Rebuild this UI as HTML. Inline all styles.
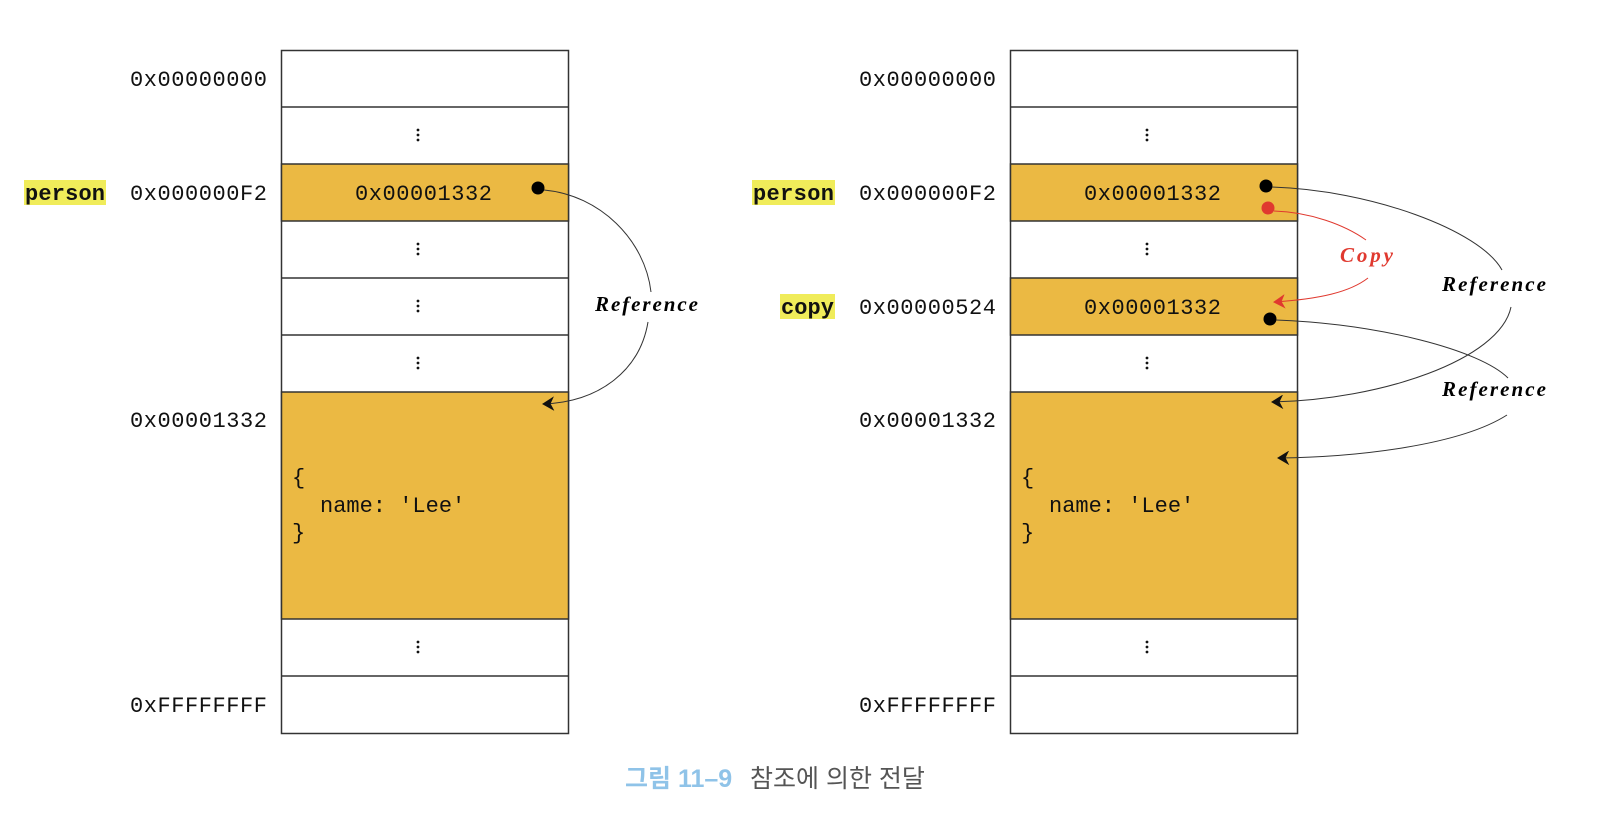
<!DOCTYPE html>
<html><head><meta charset="utf-8"><style>
html,body{margin:0;padding:0;background:#fff;overflow:hidden}
svg{display:block}
.m{font-family:"Liberation Mono",monospace;font-size:22px;fill:#111}
.r{font-family:"Liberation Serif",serif;font-style:italic;font-weight:bold;font-size:21px}
</style></head><body>
<svg width="1599" height="827" viewBox="0 0 1599 827" xmlns="http://www.w3.org/2000/svg">
<defs>
<marker id="ab" markerWidth="14" markerHeight="14" refX="12" refY="7" orient="auto" markerUnits="userSpaceOnUse"><path d="M2,1 L12,7 L2,13 L5,7 Z" fill="#111" stroke="#111" stroke-width="1"/></marker>
<marker id="ar" markerWidth="14" markerHeight="14" refX="12" refY="7" orient="auto" markerUnits="userSpaceOnUse"><path d="M2,1 L12,7 L2,13 L5,7 Z" fill="#e0392f" stroke="#e0392f" stroke-width="1"/></marker>
</defs>
<g stroke="#333" stroke-width="1.5">
 <rect x="281.5" y="50.5" width="287" height="683" fill="#fff"/>
 <rect x="281.5" y="164" width="287" height="57" fill="#ebb943"/>
 <rect x="281.5" y="392" width="287" height="227" fill="#ebb943"/>
 <line x1="281" y1="107" x2="568" y2="107"/><line x1="281" y1="278" x2="568" y2="278"/><line x1="281" y1="335" x2="568" y2="335"/><line x1="281" y1="676" x2="568" y2="676"/>
</g>
<g stroke="#333" stroke-width="1.5">
 <rect x="1010.5" y="50.5" width="287" height="683" fill="#fff"/>
 <rect x="1010.5" y="164" width="287" height="57" fill="#ebb943"/>
 <rect x="1010.5" y="278" width="287" height="57" fill="#ebb943"/>
 <rect x="1010.5" y="392" width="287" height="227" fill="#ebb943"/>
 <line x1="1010" y1="107" x2="1297" y2="107"/><line x1="1010" y1="676" x2="1297" y2="676"/>
</g>
<g fill="#111">
 <g id="d"><circle cx="418" cy="130" r="1.4"/><circle cx="418" cy="135" r="1.4"/><circle cx="418" cy="140" r="1.4"/></g>
 <use href="#d" y="114"/><use href="#d" y="171"/><use href="#d" y="228"/><use href="#d" y="512"/>
 <use href="#d" x="729"/><use href="#d" x="729" y="114"/><use href="#d" x="729" y="228"/><use href="#d" x="729" y="512"/>
</g>
<g class="m">
 <text x="130" y="86" textLength="137">0x00000000</text>
 <text x="130" y="200" textLength="137">0x000000F2</text>
 <text x="130" y="427" textLength="137">0x00001332</text>
 <text x="130" y="712" textLength="137">0xFFFFFFFF</text>
 <text x="859" y="86" textLength="137">0x00000000</text>
 <text x="859" y="200" textLength="137">0x000000F2</text>
 <text x="859" y="314" textLength="137">0x00000524</text>
 <text x="859" y="427" textLength="137">0x00001332</text>
 <text x="859" y="712" textLength="137">0xFFFFFFFF</text>
 <text x="355" y="200" textLength="137">0x00001332</text>
 <text x="1084" y="200" textLength="137">0x00001332</text>
 <text x="1084" y="314" textLength="137">0x00001332</text>
 <text x="292" y="484">{</text><text x="320" y="512">name: 'Lee'</text><text x="292" y="539">}</text>
 <text x="1021" y="484">{</text><text x="1049" y="512">name: 'Lee'</text><text x="1021" y="539">}</text>
</g>
<rect x="24" y="180" width="82" height="25" fill="#f0ec5a"/>
<rect x="752" y="180" width="83" height="25" fill="#f0ec5a"/>
<rect x="780" y="294" width="55" height="25" fill="#f0ec5a"/>
<g class="m" font-weight="bold">
 <text x="25" y="200" textLength="80">person</text>
 <text x="753" y="200" textLength="81">person</text>
 <text x="781" y="314" textLength="53">copy</text>
</g>
<circle cx="538" cy="188" r="6.5" fill="#000"/>
<path d="M544,190 C600,195 645,240 651,292" fill="none" stroke="#333" stroke-width="1"/>
<path d="M648,322 C640,370 600,402 543,404" fill="none" stroke="#333" stroke-width="1" marker-end="url(#ab)"/>
<text class="r" x="595" y="311" textLength="103">Reference</text>
<circle cx="1266" cy="186" r="6.5" fill="#000"/>
<circle cx="1268" cy="208" r="6.5" fill="#e0392f"/>
<circle cx="1270" cy="319" r="6.5" fill="#000"/>
<path d="M1272,187 C1370,190 1480,230 1502,270" fill="none" stroke="#333" stroke-width="1"/>
<path d="M1511,307 C1500,360 1380,400 1272,402" fill="none" stroke="#333" stroke-width="1" marker-end="url(#ab)"/>
<path d="M1276,320 C1380,324 1480,350 1508,378" fill="none" stroke="#333" stroke-width="1"/>
<path d="M1507,415 C1460,445 1360,457 1278,458" fill="none" stroke="#333" stroke-width="1" marker-end="url(#ab)"/>
<path d="M1274,211 C1310,212 1345,225 1366,240" fill="none" stroke="#e0392f" stroke-width="1"/>
<path d="M1368,278 C1350,292 1320,299 1274,302" fill="none" stroke="#e0392f" stroke-width="1" marker-end="url(#ar)"/>
<text class="r" x="1442" y="291" textLength="104">Reference</text>
<text class="r" x="1442" y="396" textLength="104">Reference</text>
<text class="r" x="1340" y="262" fill="#e0392f" textLength="53">Copy</text>
<text x="625" y="787" font-family="'Liberation Sans','Noto Sans CJK KR',sans-serif" font-size="25" font-weight="bold" fill="#8fc3e8">그림 11–9</text>
<text x="750" y="787" font-family="'Liberation Sans','Noto Sans CJK KR',sans-serif" font-size="25" fill="#555">참조에 의한 전달</text>
</svg>
</body></html>
